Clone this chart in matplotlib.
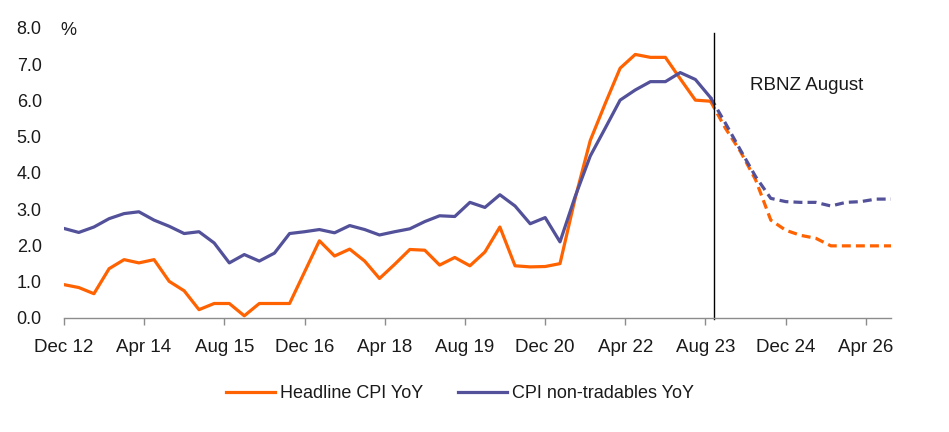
import pandas as pd
import matplotlib.pyplot as plt
from matplotlib.lines import Line2D

ORANGE = "#FF6200"
PURPLE = "#525199"
GREY = "#8c8c8c"
FONT = ["Liberation Sans", "DejaVu Sans"]

# quarterly, Dec 12 .. Sep 26; last 12 quarters are the RBNZ August forecast
dates = pd.date_range("2012-12-01", periods=56, freq="3MS")
n_fcst = 12

headline = [
    0.92, 0.84, 0.67, 1.36, 1.61, 1.52, 1.61, 1.01, 0.75, 0.23, 0.40, 0.40,
    0.06, 0.40, 0.40, 0.40, 1.27, 2.13, 1.71, 1.90, 1.57, 1.09, 1.48, 1.89,
    1.87, 1.46, 1.67, 1.44, 1.82, 2.51, 1.44, 1.41, 1.42, 1.50, 3.30, 4.90,
    5.92, 6.89, 7.27, 7.19, 7.19, 6.60, 6.01, 5.98,
    5.23, 4.59, 3.81, 2.70, 2.42, 2.28, 2.20, 1.99, 1.99, 1.99, 1.99, 1.99,
]
non_tradables = [
    2.47, 2.36, 2.51, 2.74, 2.88, 2.93, 2.70, 2.53, 2.33, 2.38, 2.07, 1.52,
    1.75, 1.57, 1.79, 2.33, 2.38, 2.44, 2.35, 2.55, 2.44, 2.29, 2.38, 2.46,
    2.66, 2.82, 2.80, 3.19, 3.05, 3.40, 3.09, 2.60, 2.77, 2.10, 3.35, 4.47,
    5.24, 6.01, 6.29, 6.52, 6.52, 6.77, 6.58, 6.08,
    5.37, 4.63, 3.90, 3.30, 3.21, 3.19, 3.19, 3.09, 3.19, 3.21, 3.28, 3.28,
]

tick_dates = pd.date_range("2012-12-01", periods=11, freq="16MS")
y_ticks = [0, 1, 2, 3, 4, 5, 6, 7, 8]
rbnz_date = pd.Timestamp("2023-09-20")

plt.rcParams["font.family"] = FONT

fig = plt.figure(figsize=(9.49, 4.32), dpi=100)
ax = fig.add_axes([0.0674, 0.2639, 0.8715, 0.6713])

series = [(headline, ORANGE, "Headline CPI YoY"),
          (non_tradables, PURPLE, "CPI non-tradables YoY")]
split = len(dates) - n_fcst
for vals, color, label in series:
    s = pd.Series(vals, index=dates)
    # actuals solid, forecast dashed (joined at last actual)
    ax.plot(s.index[:split], s.values[:split], color=color, lw=2.3)
    ax.plot(s.index[split - 1:], s.values[split - 1:], color=color, lw=2.3,
            dashes=(2.8, 1.6))

# ── RBNZ August marker ────────────────────────────────────────────
ax.axvline(rbnz_date, ymin=-0.005, ymax=0.983, color="black", lw=1.0,
           clip_on=False)
ax.text(pd.Timestamp("2024-04-25"), 6.4, "RBNZ August", fontsize=13.5,
        ha="left", va="center", color="#1a1a1a")

# ── axes styling ──────────────────────────────────────────────────
ax.set_xlim(dates[0], dates[-1])
ax.set_ylim(0, 8)
ax.set_yticks(y_ticks)
ax.set_yticklabels([f"{v:.1f}" for v in y_ticks])
ax.set_xticks(tick_dates)
ax.set_xticklabels([d.strftime("%b %y") for d in tick_dates])

for side in ["top", "right", "left"]:
    ax.spines[side].set_visible(False)
ax.spines["bottom"].set_color(GREY)
ax.spines["bottom"].set_linewidth(1.0)

ax.tick_params(axis="y", length=0, pad=34, labelsize=13, labelcolor="#1a1a1a")
for lbl in ax.get_yticklabels():
    lbl.set_horizontalalignment("left")
ax.tick_params(axis="x", length=5, width=1, color=GREY, pad=10,
               labelsize=13.5, labelcolor="#1a1a1a")

ax.annotate("%", xy=(dates[0], 8), xytext=(3, -2), textcoords="offset points",
            fontsize=13, ha="center", va="center", color="#1a1a1a",
            annotation_clip=False)

handles = [Line2D([], [], color=c, lw=2.3) for _, c, _ in series]
fig.legend(handles, [lab for _, _, lab in series], loc="center",
           bbox_to_anchor=(460 / 949, 0.088), ncol=2, frameon=False,
           fontsize=13, handlelength=2.7, handletextpad=0.3,
           columnspacing=1.9, labelcolor="#1a1a1a")

fig.savefig("out.png", dpi=100)
